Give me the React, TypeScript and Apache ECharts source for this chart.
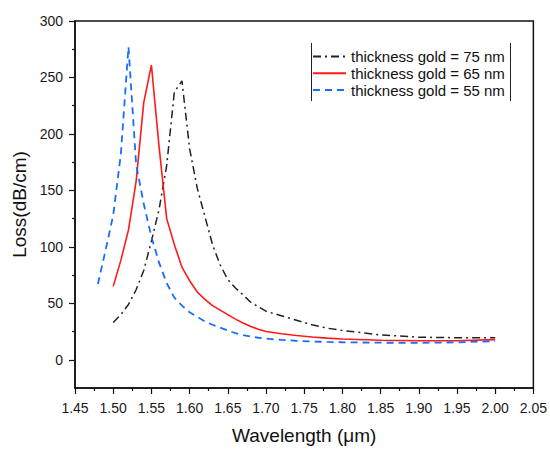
import React, { useEffect, useRef } from "react";
import * as echarts from "echarts";

const FONT = "'Liberation Sans', Arial, Helvetica, sans-serif";

const seriesNames = ["thickness gold = 75 nm", "thickness gold = 65 nm", "thickness gold = 55 nm"];

const wl75 = [1.50, 1.51, 1.52, 1.53, 1.54, 1.55, 1.56, 1.57, 1.58, 1.59,
  1.60, 1.61, 1.62, 1.63, 1.64, 1.65, 1.66, 1.67, 1.68, 1.69, 1.70,
  1.72, 1.74, 1.76, 1.78, 1.80, 1.85, 1.90, 1.95, 2.00];
const loss75 = [33, 40, 49, 62, 79, 105, 133, 172, 237, 247,
  187, 152, 127, 102, 84, 71, 63.5, 57.5, 51, 47, 43,
  39, 35, 31, 28, 26, 22, 20, 19.5, 19.5];

const wl65 = [1.50, 1.51, 1.52, 1.53, 1.54, 1.55, 1.56, 1.57, 1.58, 1.59,
  1.60, 1.61, 1.62, 1.63, 1.64, 1.65, 1.66, 1.67, 1.68, 1.69, 1.70,
  1.72, 1.74, 1.76, 1.78, 1.80, 1.85, 1.90, 1.95, 2.00];
const loss65 = [65, 88, 115, 158, 228, 261, 189, 125, 102, 82,
  70, 60, 53.5, 48, 44, 40, 36, 32.5, 29.5, 27, 25,
  23, 21.5, 20.2, 19.2, 18.4, 17.3, 16.8, 16.9, 17.8];

const wl55 = [1.48, 1.49, 1.50, 1.51, 1.52, 1.53, 1.54, 1.55, 1.56, 1.57, 1.58, 1.59,
  1.60, 1.61, 1.62, 1.63, 1.64, 1.65, 1.66, 1.67, 1.68, 1.69, 1.70,
  1.72, 1.74, 1.76, 1.78, 1.80, 1.85, 1.90, 1.95, 2.00];
const loss55 = [67, 97, 128, 182, 277, 173, 138, 109, 86, 68, 55, 48,
  42, 38, 34, 31, 28.5, 26, 23.5, 21.8, 20.5, 19.5, 18.7,
  17.6, 16.8, 16.2, 15.8, 15.5, 15.1, 15, 15.4, 16.5];

const yMajorTicks = [0, 50, 100, 150, 200, 250, 300];
const yMinorTicks = [25, 75, 125, 175, 225, 275];

const pairs = (xs: number[], ys: number[]) => xs.map((x, i) => [x, ys[i]]);

export default function App() {
  const ref = useRef<HTMLDivElement>(null);
  useEffect(() => {
    if (!ref.current) return;
    const chart = echarts.init(ref.current, undefined, { renderer: "svg" });
    const axisColor = "#111";
    chart.setOption({
      animation: false,
      backgroundColor: "#fff",
      textStyle: { fontFamily: FONT },
      grid: {
        left: 75, top: 21, right: 14, bottom: 58,
        show: true, borderColor: axisColor, borderWidth: 1.5, backgroundColor: "transparent",
      },
      legend: {
        orient: "vertical",
        left: 312,
        top: 49,
        padding: 0,
        itemWidth: 33,
        itemHeight: 14,
        itemGap: 1.8,
        data: seriesNames,
        itemStyle: { opacity: 0 },
        textStyle: { fontSize: 15, color: "#111", fontFamily: FONT },
      },
      graphic: [
        { type: "line", shape: { x1: 311.5, y1: 43, x2: 311.5, y2: 101 }, style: { stroke: "#222", lineWidth: 1 } },
        { type: "line", shape: { x1: 510.5, y1: 43, x2: 510.5, y2: 101 }, style: { stroke: "#222", lineWidth: 1 } },
      ],
      xAxis: {
        type: "value",
        min: 1.45,
        max: 2.05,
        interval: 0.05,
        name: "Wavelength (\u03bcm)",
        nameLocation: "middle",
        nameGap: 38,
        nameTextStyle: { fontSize: 19, color: "#111", fontFamily: FONT },
        axisLine: { show: true, onZero: false, lineStyle: { color: axisColor, width: 1.5 } },
        axisTick: { show: true, length: 6, lineStyle: { color: axisColor, width: 1.2 } },
        minorTick: { show: true, splitNumber: 2, length: 3, lineStyle: { color: axisColor, width: 1.2 } },
        splitLine: { show: false },
        minorSplitLine: { show: false },
        axisLabel: {
          margin: 13, fontSize: 14, color: "#1a1a1a", fontFamily: FONT,
          formatter: (v: number) => v.toFixed(2),
        },
      },
      yAxis: [
        {
          type: "value",
          min: -25,
          max: 300,
          name: "Loss(dB/cm)",
          nameLocation: "middle",
          nameGap: 42,
          nameTextStyle: { fontSize: 19, color: "#111", fontFamily: FONT },
          axisLine: { show: true, onZero: false, lineStyle: { color: axisColor, width: 1.5 } },
          axisTick: { show: true, length: 6, customValues: yMajorTicks, lineStyle: { color: axisColor, width: 1.2 } },
          axisLabel: { margin: 12, fontSize: 14, color: "#1a1a1a", fontFamily: FONT, customValues: yMajorTicks },
          splitLine: { show: false },
        },
        {
          type: "value",
          min: -25,
          max: 300,
          position: "left",
          axisLine: { show: false },
          axisTick: { show: true, length: 3, customValues: yMinorTicks, lineStyle: { color: axisColor, width: 1.2 } },
          axisLabel: { show: false },
          splitLine: { show: false },
        },
      ],
      series: [
        {
          name: seriesNames[0],
          type: "line",
          symbol: "none",
          data: pairs(wl75, loss75),
          lineStyle: { color: "#222", width: 1.5, type: [8, 4, 2, 4] },
          itemStyle: { color: "#222" },
        },
        {
          name: seriesNames[1],
          type: "line",
          symbol: "none",
          data: pairs(wl65, loss65),
          lineStyle: { color: "#ff1a1a", width: 1.6, type: "solid" },
          itemStyle: { color: "#ff1a1a" },
        },
        {
          name: seriesNames[2],
          type: "line",
          symbol: "none",
          data: pairs(wl55, loss55),
          lineStyle: { color: "#1a6cff", width: 1.8, type: [7, 5] },
          itemStyle: { color: "#1a6cff" },
        },
      ],
    });
    return () => chart.dispose();
  }, []);
  return (
    <div
      ref={ref}
      style={{ position: "absolute", left: 0, top: 0, width: 550, height: 450 }}
    />
  );
}
